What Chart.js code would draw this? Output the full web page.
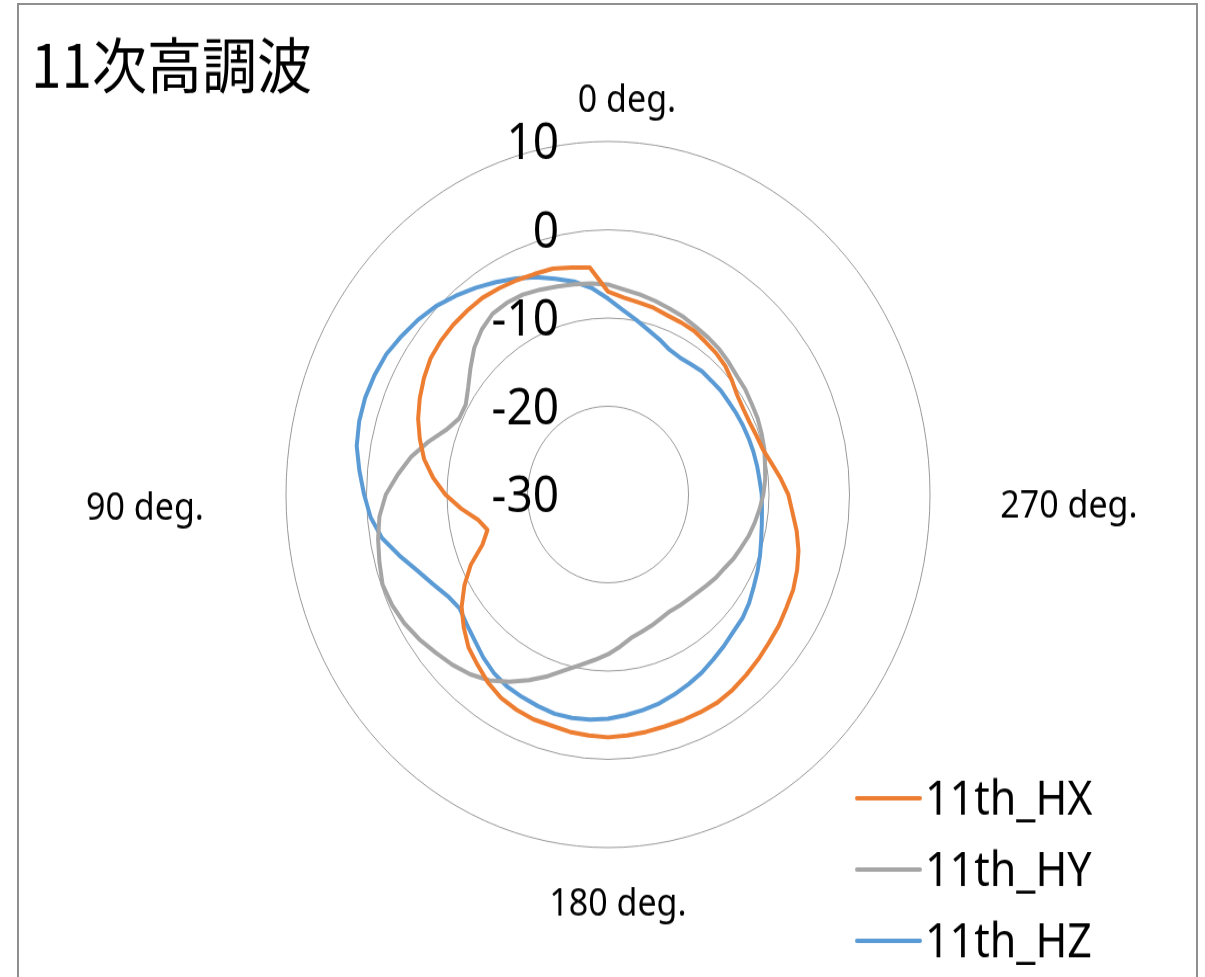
<!DOCTYPE html>
<html>
<head>
<meta charset="utf-8">
<title>11次高調波</title>
<script src="https://cdn.jsdelivr.net/npm/chart.js@4.4.1/dist/chart.umd.min.js"></script>
<style>
  html, body { margin: 0; padding: 0; background: #ffffff; width: 1205px; height: 977px; overflow: hidden; }
  /* the whole drawing is rendered a little taller than wide */
  #stage { position: absolute; left: 0; top: 0; width: 1205px; height: 891px; transform: scaleY(1.0965); transform-origin: 0 0; }
  #frame { position: absolute; left: 17px; top: 3px; width: 1177px; height: 1000px; border: 2px solid #8f8f8f; pointer-events: none; }
</style>
</head>
<body>
<div id="stage"><canvas id="chart" width="1205" height="891"></canvas></div>
<div id="frame"></div>
<script>
// ---- chart data -------------------------------------------------------
const chartTitle = '11次高調波';
const seriesNames = ['11th_HX', '11th_HY', '11th_HZ'];
const seriesColors = ['#ED7D31', '#A5A5A5', '#5B9BD5'];

// measurement angle in degrees (counter-clockwise from the top)
const angles = [
    0,   5,  10,  15,  20,  25,  30,  35,  40,  45,  50,  55,
   60,  65,  70,  75,  80,  85,  90,  95, 100, 105, 110, 115,
  120, 125, 130, 135, 140, 145, 150, 155, 160, 165, 170, 175,
  180, 185, 190, 195, 200, 205, 210, 215, 220, 225, 230, 235,
  240, 245, 250, 255, 260, 265, 270, 275, 280, 285, 290, 295,
  300, 305, 310, 315, 320, 325, 330, 335, 340, 345, 350, 355
];

// level in dB at each angle
const hx = [
   -7.0,  -4.2,  -3.9,  -3.5,  -3.4,  -3.2,  -3.0,  -2.8,  -2.8,  -2.8,  -2.9,  -3.1,
   -3.6,  -4.2,  -4.9,  -5.8,  -6.8,  -8.2,  -9.8, -11.7, -13.6, -14.5, -13.4, -11.2,
   -9.4,  -7.8,  -6.6,  -5.5,  -4.8,  -4.0,  -3.4,  -3.1,  -2.9,  -2.9,  -2.7,  -2.6,
   -2.5,  -2.6,  -2.7,  -2.8,  -2.8,  -2.8,  -2.8,  -3.0,  -3.3,  -3.6,  -3.9,  -4.1,
   -4.4,  -4.6,  -5.0,  -5.5,  -6.2,  -7.0,  -7.6,  -8.5,  -9.4, -10.1, -10.4, -10.6,
  -10.6, -10.4,  -9.9,  -9.4,  -9.1,  -8.9,  -8.6,  -8.5,  -8.4,  -8.1,  -7.9,  -7.6
];
const hy = [
   -6.2,  -6.0,  -5.8,  -5.6,  -5.3,  -5.0,  -4.9,  -5.0,  -5.6,  -6.5,  -7.7,  -8.8,
   -9.6,  -9.6,  -8.6,  -6.9,  -5.2,  -3.8,  -2.4,  -1.5,  -1.0,  -0.6,  -0.2,  -0.4,
   -0.8,  -1.4,  -2.1,  -2.7,  -3.4,  -4.3,  -5.5,  -6.8,  -8.1,  -9.4, -10.4, -11.2,
  -11.9, -12.7, -13.5, -13.9, -14.2, -14.5, -14.7, -14.6, -14.5, -14.3, -14.0, -13.6,
  -13.3, -12.8, -12.4, -11.9, -11.5, -11.1, -10.7, -10.4, -10.2,  -9.9,  -9.7,  -9.5,
   -9.4,  -9.2,  -9.1,  -8.8,  -8.5,  -8.3,  -8.1,  -7.8,  -7.6,  -7.3,  -7.0,  -6.7
];
const hz = [
   -7.8,  -6.5,  -5.5,  -4.7,  -3.8,  -3.0,  -2.2,  -1.4,  -0.6,   0.2,   0.8,   1.3,
    1.8,   2.0,   2.1,   2.0,   1.7,   1.0,   0.3,  -0.4,  -1.5,  -3.2,  -4.8,  -6.0,
   -7.0,  -7.5,  -7.1,  -6.6,  -5.9,  -5.3,  -4.9,  -4.7,  -4.5,  -4.3,  -4.3,  -4.4,
   -4.6,  -4.9,  -5.2,  -5.5,  -5.9,  -6.3,  -6.7,  -7.2,  -7.6,  -8.0,  -8.2,  -8.6,
   -9.1,  -9.5,  -9.9, -10.3, -10.6, -10.8, -10.9, -11.1, -11.2, -11.3, -11.4, -11.5,
  -11.6, -11.7, -11.7, -11.8, -11.8, -12.0, -12.1, -11.9, -11.3, -10.7,  -9.9,  -9.0
];

// radial axis range and ring step
const axisMin = -30;
const axisMax = 10;
const axisStep = 10;

// direction captions: text and the angle they belong to
const directionTexts = ['0 deg.', '90 deg.', '180 deg.', '270 deg.'];
const directionAngles = [0, 90, 180, 270];

// ---- build the radar tables --------------------------------------------
// the radar scale runs clockwise, the angles run counter-clockwise
const n = angles.length;
const order = angles.map((_, i) => (n - i) % n);
const categoryLabels = order.map(k => angles[k]);
const reorder = arr => order.map(k => arr[k]);

const seriesValues = [hx, hy, hz];
const datasets = seriesValues.map((vals, s) => ({
  label: seriesNames[s],
  data: reorder(vals),
  borderColor: seriesColors[s],
  backgroundColor: 'rgba(0,0,0,0)',
  borderWidth: 4,
  borderJoinStyle: 'round',
  borderCapStyle: 'round',
  pointRadius: 0,
  pointHoverRadius: 0,
  fill: false,
  tension: 0
}));

// ---- text drawn around the polar grid ----------------------------------
const textFont = '"Noto Sans", "Open Sans", sans-serif';
const captionPlugin = {
  id: 'captions',
  afterDatasetsDraw(chart) {
    const ctx = chart.ctx;
    const r = chart.scales.r;
    ctx.save();
    ctx.fillStyle = '#000000';

    // ring values, right-aligned left of the vertical axis
    ctx.font = '46px ' + textFont;
    ctx.textAlign = 'right';
    ctx.textBaseline = 'middle';
    r.ticks.forEach(t => {
      const d = r.getDistanceFromCenterForValue(t.value);
      ctx.fillText(String(t.value), r.xCenter - 49, r.yCenter - d + 3);
    });

    // direction captions
    ctx.font = '34px ' + textFont;
    ctx.textAlign = 'center';
    ctx.textBaseline = 'alphabetic';
    const outer = r.drawingArea;
    const place = {
      0:   { dx: 19,             dy: -(outer + 27) },
      90:  { dx: -(outer + 141), dy: 23 },
      180: { dx: 10,             dy: outer + 62 },
      270: { dx: outer + 139,    dy: 21 }
    };
    directionTexts.forEach((txt, i) => {
      const p = place[directionAngles[i]];
      ctx.fillText(txt, r.xCenter + p.dx, r.yCenter + p.dy);
    });
    ctx.restore();
  },
  afterDraw(chart) {
    const ctx = chart.ctx;
    ctx.save();
    // title
    ctx.fillStyle = '#000000';
    ctx.font = '55px "Noto Sans CJK JP", "Noto Sans", sans-serif';
    ctx.textAlign = 'left';
    ctx.textBaseline = 'alphabetic';
    ctx.fillText(chartTitle, 31, 80);

    // legend
    chart.data.datasets.forEach((ds, i) => {
      const y = 728 + i * 65;
      ctx.strokeStyle = ds.borderColor;
      ctx.lineWidth = 4;
      ctx.lineCap = 'round';
      ctx.beginPath();
      ctx.moveTo(857, y);
      ctx.lineTo(920, y);
      ctx.stroke();
      ctx.fillStyle = '#000000';
      ctx.font = '43px ' + textFont;
      ctx.textBaseline = 'alphabetic';
      ctx.fillText(ds.label, 925, y + 15);
    });
    ctx.restore();
  }
};

new Chart(document.getElementById('chart'), {
  type: 'radar',
  data: { labels: categoryLabels, datasets },
  options: {
    responsive: false,
    maintainAspectRatio: false,
    animation: false,
    layout: { padding: { left: 286, top: 129, right: 275, bottom: 118 } },
    plugins: {
      legend: { display: false },
      title: { display: false },
      tooltip: { enabled: false }
    },
    scales: {
      r: {
        min: axisMin,
        max: axisMax,
        startAngle: 0,
        ticks: { stepSize: axisStep, display: false },
        grid: { circular: true, color: '#999999', lineWidth: 1 },
        angleLines: { display: false },
        pointLabels: { display: false }
      }
    }
  },
  plugins: [captionPlugin]
});
</script>
</body>
</html>
